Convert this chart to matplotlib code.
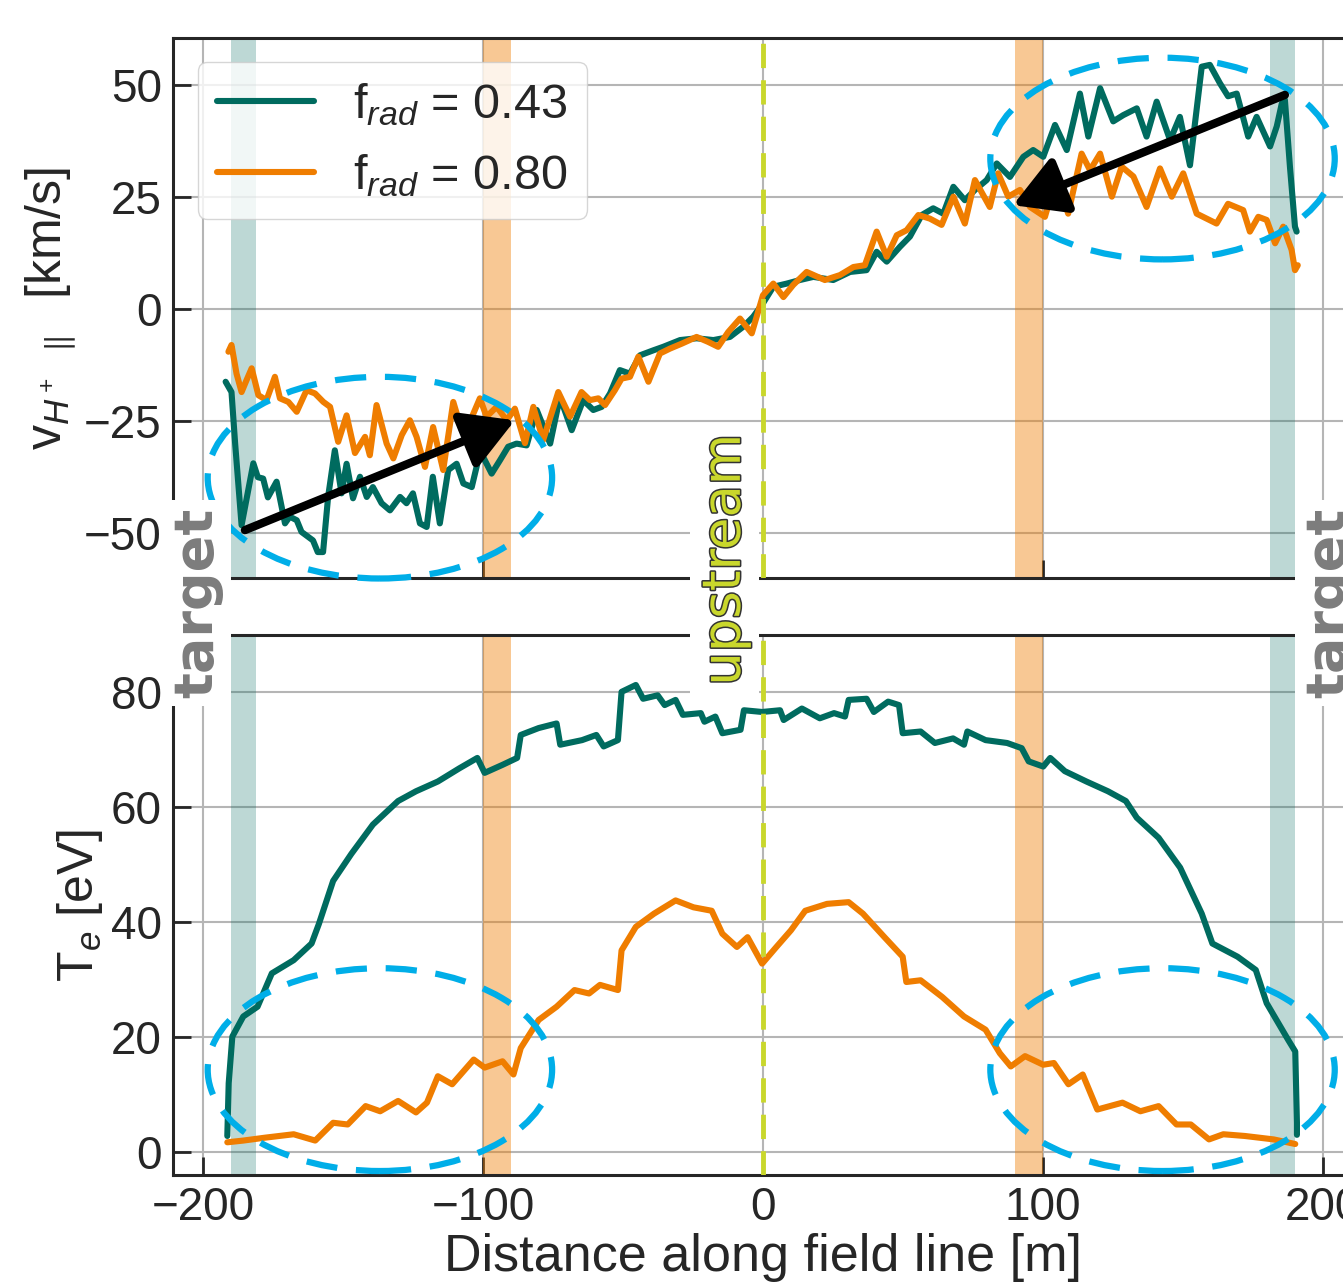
import matplotlib
matplotlib.use('Agg')
import matplotlib.pyplot as plt
from matplotlib.patches import Ellipse
from matplotlib.transforms import blended_transform_factory
import matplotlib.patheffects as pe

plt.rcParams['font.family'] = ['Liberation Sans', 'DejaVu Sans']
plt.rcParams['mathtext.fontset'] = 'custom'
plt.rcParams['mathtext.rm'] = 'Liberation Sans'
plt.rcParams['mathtext.it'] = 'Liberation Sans:italic'
plt.rcParams['text.color'] = '#262626'
plt.rcParams['axes.labelcolor'] = '#262626'
plt.rcParams['xtick.color'] = '#262626'
plt.rcParams['ytick.color'] = '#262626'

# velocity along field line, f_rad = 0.43 (teal)
x_v043 = [-191.9, -189.8, -188.5, -186.2, -182, -180.4, -178.5, -176.8, -173.7, -170.7, -169, -166.5,
          -164.8, -160.7, -159, -157.1, -155.3, -152.9, -150.5, -148.7, -146.4, -143.9, -141.5, -139.3,
          -136.2, -133.2, -129.6, -127.3, -125, -122.5, -120.1, -117.9, -115.4, -112.4, -109.4, -107,
          -104, -101.7, -99.9, -96.9, -93.9, -91, -88, -84.4, -80.8, -76, -72.5, -68.3, -64.2, -60.6,
          -57.6, -54.6, -51.1, -47.5, -43.9, -39.2, -35.6, -29.6, -23.7, -17.7, -11.8, -7, -3.5, 0,
          3.7, 8.5, 13.2, 18, 25.1, 31.1, 37, 40.6, 44.2, 48.9, 52.5, 56.7, 60.8, 64.4, 68, 72.1, 75.7,
          79.9, 83.5, 88.2, 93, 96.5, 100.1, 104.3, 108.5, 113.2, 116.2, 120.4, 125.1, 128.7, 133.5,
          137, 140.6, 145.4, 148.9, 152.5, 156.7, 159.6, 163.2, 166.1, 169.2, 173.3, 176.3, 181.1,
          183.5, 185.3, 186.4, 188.2, 190, 190.6]
v043 = [-16.2, -18.5, -30, -48.2, -34.4, -37.5, -37.8, -42, -38.5, -47.8, -46.3, -47.1,
        -49.7, -51.6, -54.2, -54.2, -41.9, -31.5, -41.1, -34.5, -42.2, -37.4, -41.9, -39.7,
        -43.3, -44.9, -41.9, -43.3, -41.1, -47.8, -48.6, -37.4, -47.8, -35.9, -34.5, -38.9,
        -39.7, -33.7, -33, -36.7, -33.7, -30.7, -30, -30.4, -22.5, -30, -19.6, -27, -20.3, -22.5,
        -21.8, -18.8, -13.6, -14.4, -10.3, -9.2, -8.4, -6.9, -6.5, -6.9, -6.2, -3.9, -1.7, 1.3,
        5, 5.7, 6.5, 7.2, 6.5, 8.3, 8.7, 12.8, 10.6, 13.9, 16.2, 21, 22.5, 21.3, 27.3, 24.3, 26.6,
        28.8, 32.5, 29.5, 34, 35.5, 34, 41.1, 35.5, 48.1, 38.5, 49.3, 41.9, 43.3, 44.8,
        38.5, 46.3, 37.7, 42.9, 32.1, 54.1, 54.5, 50.4, 47.5, 48.1, 38.5, 42.9, 36.3,
        40.8, 45.9, 46.7, 31.8, 18.4, 17.3]

# velocity along field line, f_rad = 0.80 (orange)
x_v080 = [-190.9, -189.8, -188, -186.2, -184.4, -182.6, -180.2, -177.3, -174.3, -172.5, -169.5, -166.5,
          -163, -160, -157, -154.6, -151.7, -148.7, -145.7, -142.1, -140.4, -138, -134.4, -132, -129,
          -126.1, -123.7, -120.7, -117.8, -114.2, -110.6, -107.6, -105.2, -101.1, -98.7, -95.1, -91.5,
          -88.6, -85, -82, -78.5, -73.1, -68.9, -64.8, -61.8, -58.8, -56.4, -52.9, -50.5, -47.5, -44.5,
          -40.9, -36.8, -33.2, -29, -23.7, -19.6, -16, -12.4, -8.2, -4, 0, 3.7, 7.3, 10.8, 15.6, 22.1,
          27.5, 32.3, 36.4, 40.6, 44.2, 47.8, 51.3, 55.5, 59.6, 63.8, 68, 72.1, 75.7, 81, 84, 87.6,
          91.8, 95.4, 100.7, 104.9, 109, 113.8, 116.8, 120.4, 124.6, 128.1, 132.3, 137, 141.8, 146,
          150.1, 154.9, 162, 166.1, 171.5, 173.9, 176.9, 179.9, 182.9, 185.8, 188.8, 190, 191]
v080 = [-9.5, -8.0, -14.4, -18.5, -15.8, -13.2, -19.2, -20.3, -15.1, -19.9, -20.7, -22.9,
        -18.1, -18.8, -20.7, -21.8, -29.6, -23.7, -32.1, -28.5, -32.6, -21.4, -30, -33.3, -28.1,
        -24.8, -28.5, -35.2, -26.3, -35.9, -20.7, -27, -25.9, -19.9, -24, -21.8, -24.8,
        -22.2, -29.9, -21.8, -29.2, -18.5, -24, -18.5, -20.3, -19.9, -21.4, -18.1, -15.5, -15.1, -10.6,
        -16.2, -9.9, -8.8, -7.7, -6.2, -7.3, -8.4, -5.1, -2.1, -5.4, 3.1, 5.7, 2.7, 5.4, 8.3, 6.5,
        7.6, 9.4, 9.8, 17.3, 11.7, 16.5, 17.6, 21, 20.2, 18.8, 25.1, 19.1, 28.8, 22.8, 30.3, 25.1,
        26.6, 22.8, 20.6, 29.6, 21.3, 34.7, 31, 34.7, 25.1, 31.8, 29.6, 22.8, 31.4, 25.1,
        30.3, 21.3, 19.1, 23.5, 22.1, 17.3, 20.6, 19.9, 14.7, 18.4, 13.2, 8.7, 9.8]

# electron temperature, f_rad = 0.43 (teal)
x_t043 = [-191.3, -190.8, -189.5, -185.6, -180.5, -175.4, -167.6, -161.2, -158.6, -153.5, -147, -139.3,
          -130.3, -123.9, -116.1, -108.4, -102, -99.4, -93, -87.8, -86.5, -80.1, -73.7, -72.4, -64.6,
          -59.5, -56.9, -51.8, -50.5, -45.4, -42.8, -37.6, -35.1, -31.2, -28.6, -22.2, -20.9, -17,
          -14.5, -8, -6.8, -0.3, 6.1, 7.4, 13.9, 20.3, 25.4, 29.3, 30.6, 37, 39.6, 44.7, 48.6, 49.9,
          56.3, 61.4, 67.9, 71.8, 73, 79.5, 87.2, 92.4, 94.9, 100.1, 102.6, 107.8, 115.5, 123.2,
          129.6, 133.5, 141.3, 149, 156.7, 160.5, 169.5, 176, 179.9, 187.6, 190.1, 190.7, 190.7]
t043 = [2.8, 12, 20.1, 23.6, 25.3, 31.1, 33.4, 36.3, 39.7, 47.2, 51.9, 57,
        61.1, 62.8, 64.5, 66.8, 68.6, 66, 67.4, 68.6, 72.6, 73.8, 74.6, 70.9, 71.7,
        72.6, 70.6, 71.7, 80.1, 81.3, 78.9, 79.5, 77.8, 78.7, 76.1, 76.4, 74.9, 75.8,
        72.9, 73.5, 76.9, 76.6, 76.9, 75.2, 77.2, 75.5, 76.4, 75.8, 78.7, 78.9, 76.6, 78.4, 77.8, 72.9,
        73.2, 71.2, 72.0, 70.9, 73.2, 71.7, 71.2, 70.3, 68.0, 67.1, 68.6, 66.3, 64.5, 62.8,
        61.1, 58.2, 54.7, 49.5, 41.5, 36.3, 34, 31.7, 25.9, 19.5, 17.5, 5.1, 3.0]

# electron temperature, f_rad = 0.80 (orange)
x_t080 = [-191.3, -185.6, -177.9, -167.6, -159.9, -153.5, -148.3, -141.9, -136.7, -130.3, -123.9, -120,
          -116.1, -111, -103.3, -99.4, -93, -89.1, -86.5, -80.1, -73.7, -67.3, -62.1, -58.2, -51.8,
          -50.5, -45.4, -38.9, -31.2, -24.8, -18.3, -14.5, -9.3, -5.5, -0.3, 4.8, 10, 15.1, 22.9,
          30.6, 35.7, 43.4, 49.9, 51.2, 56.3, 64, 71.8, 79.5, 84.6, 88.5, 93.6, 100.1, 103.9, 109.1,
          114.2, 119.4, 128.4, 134.8, 141.3, 147.7, 152.8, 159.3, 164.4, 172.1, 182.4, 190.1]
t080 = [1.7, 2.0, 2.5, 3.1, 2.0, 5.1, 4.8, 8.0, 7.1, 8.9, 6.9, 8.6,
        13.2, 11.8, 16.1, 14.7, 15.8, 13.5, 18.1, 23.0, 25.3, 28.2, 27.6, 29.1, 28.2,
        35.1, 39.2, 41.5, 43.8, 42.6, 42.0, 38.0, 35.7, 37.4, 32.8, 35.7, 38.6, 42.0, 43.2,
        43.5, 41.5, 37.4, 34.0, 29.6, 29.9, 27.0, 23.6, 21.3, 17.2, 14.9, 16.7, 15.2, 15.5, 11.8,
        13.5, 7.4, 8.6, 7.1, 8.0, 4.8, 4.8, 2.2, 3.1, 2.8, 2.2, 1.4]

labels = ['f$_{rad}$ = 0.43', 'f$_{rad}$ = 0.80']
teal = '#006b5f'
orange = '#ef7d00'
circ = '#00aee8'
upcol = '#c9d72c'

fig = plt.figure(figsize=(13.43, 12.88), dpi=100)
ax1 = fig.add_axes([0.1288, 0.5512, 0.8786, 0.4193])
ax2 = fig.add_axes([0.1288, 0.0877, 0.8786, 0.4193])

for ax in (ax1, ax2):
    ax.set_xlim(-210.7, 210.7)
    ax.set_xticks([-200, -100, 0, 100, 200])
    ax.grid(True, color='#b5b5b5', lw=1.5)
    ax.set_axisbelow(True)
    ax.tick_params(direction='in', length=13, width=2, labelsize=33, pad=8)
    for s in ax.spines.values():
        s.set_linewidth(2.2)
        s.set_color('#262626')
    ax.axvspan(-190, -181, color=teal, alpha=0.26, lw=0, zorder=1)
    ax.axvspan(181, 190, color=teal, alpha=0.26, lw=0, zorder=1)
    ax.axvspan(-100, -90, color=orange, alpha=0.42, lw=0, zorder=1)
    ax.axvspan(90, 100, color=orange, alpha=0.42, lw=0, zorder=1)
    ax.axvline(0, color=upcol, lw=3.5, ls=(0, (5, 2.5)), zorder=4)

line_kw = dict(lw=4.4, solid_joinstyle='round', solid_capstyle='round', zorder=3)

# top panel: parallel ion velocity
ax1.plot(x_v043, v043, color=teal, label=labels[0], **line_kw)
ax1.plot(x_v080, v080, color=orange, label=labels[1], **line_kw)
ax1.set_ylim(-60, 60.5)
ax1.set_yticks([-50, -25, 0, 25, 50])
ax1.tick_params(labelbottom=False)
ax1.set_ylabel(r'v$_{H^+}$ $_{\parallel}$  [km/s]', fontsize=36)
ax1.legend(loc='upper left', bbox_to_anchor=(0.021, 0.956), borderaxespad=0, fontsize=35,
           framealpha=0.8, edgecolor='#cccccc', handlelength=2.0)

ax1.add_patch(Ellipse((-136.8, -37.6), 123, 45, fill=False, ec=circ, lw=4.5,
                      ls=(0, (5, 3)), zorder=5, clip_on=False))
ax1.add_patch(Ellipse((142.7, 33.6), 123, 45, fill=False, ec=circ, lw=4.5,
                      ls=(0, (5, 3)), zorder=5, clip_on=False))
arrow = dict(arrowstyle='-|>,head_length=1.05,head_width=0.6', lw=6, color='k',
             mutation_scale=30, shrinkA=0, shrinkB=0)
ax1.annotate('', xy=(-88.6, -24.8), xytext=(-185, -49.3), arrowprops=arrow, zorder=6)
ax1.annotate('', xy=(89.3, 23.2), xytext=(186.4, 47.8), arrowprops=arrow, zorder=6)

# bottom panel: electron temperature
ax2.plot(x_t043, t043, color=teal, **line_kw)
ax2.plot(x_t080, t080, color=orange, **line_kw)
ax2.set_ylim(-4, 90)
ax2.set_yticks([0, 20, 40, 60, 80])
ax2.set_ylabel('T$_e$ [eV]', fontsize=36)
ax2.set_xlabel('Distance along field line [m]', fontsize=37.5, labelpad=2)

ax2.add_patch(Ellipse((-136.8, 14.35), 123, 35.3, fill=False, ec=circ, lw=4.5,
                      ls=(0, (5, 3)), zorder=5, clip_on=False))
ax2.add_patch(Ellipse((142.7, 14.35), 123, 35.3, fill=False, ec=circ, lw=4.5,
                      ls=(0, (5, 3)), zorder=5, clip_on=False))

# labels sitting in the gap between the panels
trans = blended_transform_factory(ax2.transData, ax2.transAxes)
box = dict(facecolor='white', edgecolor='none', pad=6)
for xt in (-202.2, 202.2):
    ax2.text(xt, 1.059, 'target', rotation=90, ha='center', va='center', fontsize=39,
             fontweight='bold', family='DejaVu Sans', color='#7c7c7c', transform=trans,
             bbox=box, zorder=10, clip_on=False)
up = ax2.text(-13.6, 1.139, 'upstream', rotation=90, ha='center', va='center', fontsize=38,
              family='DejaVu Sans', color=upcol, transform=trans, bbox=box, zorder=10,
              clip_on=False)
up.set_path_effects([pe.withStroke(linewidth=2.2, foreground='#333333')])

fig.savefig('out.png', dpi=100)
